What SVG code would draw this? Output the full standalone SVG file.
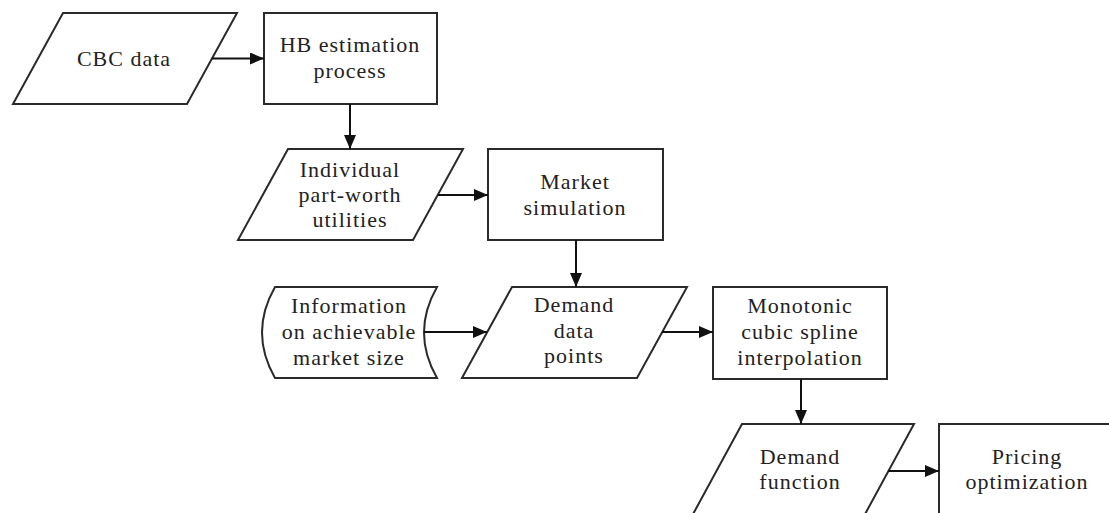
<svg xmlns="http://www.w3.org/2000/svg" width="1109" height="513" viewBox="0 0 1109 513">
<style>
.shape{fill:#ffffff;stroke:#2a2a2a;stroke-width:2}
.conn{stroke:#111111;stroke-width:2;fill:none;marker-end:url(#ah)}
</style>
<defs>
<marker id="ah" markerUnits="userSpaceOnUse" markerWidth="14" markerHeight="12" refX="14" refY="6" orient="auto">
<path d="M0,0 L14,6 L0,12 Z" fill="#111111"/>
</marker>
</defs>
<rect width="1109" height="513" fill="#ffffff"/>
<g id="cbc-data">
<polygon class="shape" points="63,13 237,13 187,104 13,104"/>
<text font-family="Liberation Serif" font-size="22" letter-spacing="1" text-anchor="middle" fill="#222222" x="124" y="66">CBC data</text>
</g>
<g id="hb-estimation">
<rect class="shape" x="264" y="13" width="173" height="91"/>
<text font-family="Liberation Serif" font-size="22" letter-spacing="1" text-anchor="middle" fill="#222222" x="350" y="52">HB estimation</text>
<text font-family="Liberation Serif" font-size="22" letter-spacing="1" text-anchor="middle" fill="#222222" x="350" y="78">process</text>
</g>
<g id="individual-utilities">
<polygon class="shape" points="288,149 463,149 413,240 238,240"/>
<text font-family="Liberation Serif" font-size="22" letter-spacing="1" text-anchor="middle" fill="#222222" x="350" y="177">Individual</text>
<text font-family="Liberation Serif" font-size="22" letter-spacing="1" text-anchor="middle" fill="#222222" x="350" y="202">part-worth</text>
<text font-family="Liberation Serif" font-size="22" letter-spacing="1" text-anchor="middle" fill="#222222" x="350" y="227">utilities</text>
</g>
<g id="market-simulation">
<rect class="shape" x="488" y="149" width="175" height="91"/>
<text font-family="Liberation Serif" font-size="22" letter-spacing="1" text-anchor="middle" fill="#222222" x="575" y="189">Market</text>
<text font-family="Liberation Serif" font-size="22" letter-spacing="1" text-anchor="middle" fill="#222222" x="575" y="215">simulation</text>
</g>
<g id="market-size-info">
<path class="shape" d="M275,287 L437,287 Q411,332.5 437,378 L275,378 Q249,332.5 275,287 Z"/>
<text font-family="Liberation Serif" font-size="22" letter-spacing="1" text-anchor="middle" fill="#222222" x="349" y="313">Information</text>
<text font-family="Liberation Serif" font-size="22" letter-spacing="1" text-anchor="middle" fill="#222222" x="349" y="339">on achievable</text>
<text font-family="Liberation Serif" font-size="22" letter-spacing="1" text-anchor="middle" fill="#222222" x="349" y="365">market size</text>
</g>
<g id="demand-data-points">
<polygon class="shape" points="512,287 687,287 637,378 462,378"/>
<text font-family="Liberation Serif" font-size="22" letter-spacing="1" text-anchor="middle" fill="#222222" x="574" y="312">Demand</text>
<text font-family="Liberation Serif" font-size="22" letter-spacing="1" text-anchor="middle" fill="#222222" x="574" y="338">data</text>
<text font-family="Liberation Serif" font-size="22" letter-spacing="1" text-anchor="middle" fill="#222222" x="574" y="363">points</text>
</g>
<g id="spline-interpolation">
<rect class="shape" x="713" y="287" width="174" height="92"/>
<text font-family="Liberation Serif" font-size="22" letter-spacing="1" text-anchor="middle" fill="#222222" x="800" y="313">Monotonic</text>
<text font-family="Liberation Serif" font-size="22" letter-spacing="1" text-anchor="middle" fill="#222222" x="800" y="339">cubic spline</text>
<text font-family="Liberation Serif" font-size="22" letter-spacing="1" text-anchor="middle" fill="#222222" x="800" y="365">interpolation</text>
</g>
<g id="demand-function">
<polygon class="shape" points="742,424 914,424 864,516 692,516"/>
<text font-family="Liberation Serif" font-size="22" letter-spacing="1" text-anchor="middle" fill="#222222" x="800" y="464">Demand</text>
<text font-family="Liberation Serif" font-size="22" letter-spacing="1" text-anchor="middle" fill="#222222" x="800" y="489">function</text>
</g>
<g id="pricing-optimization">
<rect class="shape" x="939" y="424" width="175" height="95"/>
<text font-family="Liberation Serif" font-size="22" letter-spacing="1" text-anchor="middle" fill="#222222" x="1027" y="464">Pricing</text>
<text font-family="Liberation Serif" font-size="22" letter-spacing="1" text-anchor="middle" fill="#222222" x="1027" y="489">optimization</text>
</g>
<g id="connectors">
<line class="conn" x1="212" y1="58.5" x2="264" y2="58.5"/>
<line class="conn" x1="350" y1="104" x2="350" y2="149"/>
<line class="conn" x1="438" y1="195" x2="488" y2="195"/>
<line class="conn" x1="576" y1="240" x2="576" y2="287"/>
<line class="conn" x1="424" y1="332" x2="487" y2="332"/>
<line class="conn" x1="662" y1="332" x2="713" y2="332"/>
<line class="conn" x1="801" y1="379" x2="801" y2="424"/>
<line class="conn" x1="888" y1="471" x2="939" y2="471"/>
</g>
</svg>
